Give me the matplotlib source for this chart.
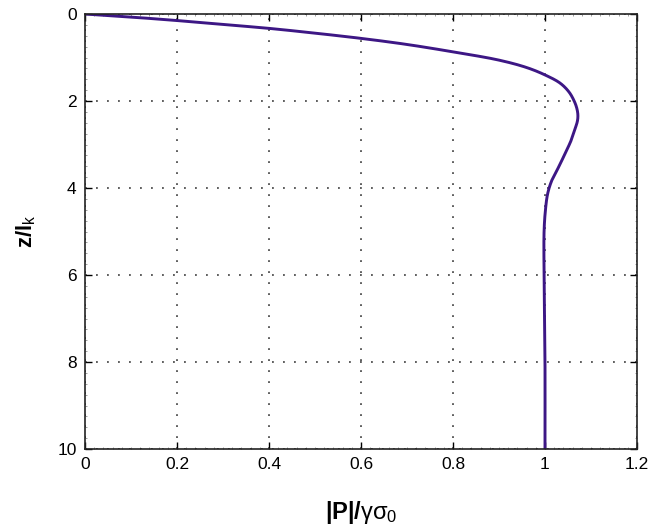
import matplotlib
matplotlib.use("Agg")
import matplotlib.pyplot as plt
from matplotlib.ticker import MultipleLocator
import numpy as np

plt.rcParams['font.family'] = ['Liberation Sans', 'DejaVu Sans']
plt.rcParams['mathtext.fontset'] = 'custom'
plt.rcParams['mathtext.rm'] = 'Liberation Sans'
plt.rcParams['mathtext.bf'] = 'Liberation Sans:bold'
plt.rcParams['mathtext.it'] = 'Liberation Sans'

# |P|/(gamma sigma_0) vs z/l_k
p_ratio = [0.0, 0.1, 0.2, 0.3, 0.4, 0.5, 0.6, 0.7, 0.8, 0.9, 0.96, 1.0,
           1.033, 1.052, 1.063, 1.069, 1.0715, 1.0705, 1.066, 1.057, 1.044,
           1.030, 1.015, 1.006, 1.001, 0.998, 0.998, 0.999, 1.0, 1.0]
z_ratio = [0.0, 0.07, 0.15, 0.24, 0.33, 0.44, 0.56, 0.70, 0.87, 1.06, 1.23, 1.40,
           1.59, 1.79, 1.99, 2.16, 2.32, 2.46, 2.62, 2.90, 3.20,
           3.51, 3.82, 4.12, 4.50, 5.0, 6.0, 7.0, 8.0, 10.0]

x_ticks = [0, 0.2, 0.4, 0.6, 0.8, 1, 1.2]
x_tick_labels = ['0', '0.2', '0.4', '0.6', '0.8', '1', '1.2']
y_ticks = [0, 2, 4, 6, 8, 10]
y_tick_labels = ['0', '2', '4', '6', '8', '10']


def catmull_rom(xs, ys, n=30, alpha=0.5):
    """Centripetal Catmull-Rom smoothing through the given points."""
    p = np.column_stack([xs, ys]).astype(float)
    scale = np.array([460.0, 43.5])  # roughly pixels per unit
    q = p * scale
    q = np.vstack([2 * q[0] - q[1], q, 2 * q[-1] - q[-2]])
    out = []
    for i in range(1, len(q) - 2):
        P0, P1, P2, P3 = q[i - 1], q[i], q[i + 1], q[i + 2]
        t0 = 0.0
        t1 = t0 + max(np.linalg.norm(P1 - P0), 1e-6) ** alpha
        t2 = t1 + max(np.linalg.norm(P2 - P1), 1e-6) ** alpha
        t3 = t2 + max(np.linalg.norm(P3 - P2), 1e-6) ** alpha
        t = np.linspace(t1, t2, n, endpoint=False)[:, None]
        A1 = (t1 - t) / (t1 - t0) * P0 + (t - t0) / (t1 - t0) * P1
        A2 = (t2 - t) / (t2 - t1) * P1 + (t - t1) / (t2 - t1) * P2
        A3 = (t3 - t) / (t3 - t2) * P2 + (t - t2) / (t3 - t2) * P3
        B1 = (t2 - t) / (t2 - t0) * A1 + (t - t0) / (t2 - t0) * A2
        B2 = (t3 - t) / (t3 - t1) * A2 + (t - t1) / (t3 - t1) * A3
        C = (t2 - t) / (t2 - t1) * B1 + (t - t1) / (t2 - t1) * B2
        out.append(C)
    out.append(q[-2][None, :])
    out = np.vstack(out) / scale
    return out[:, 0], out[:, 1]


fig = plt.figure(figsize=(6.49, 5.27), dpi=100)
ax = fig.add_axes([0.131, 0.148, 0.8505, 0.8254])

sx, sy = catmull_rom(p_ratio, z_ratio)
ax.plot(sx, sy, color='#3d1785', lw=2.1, solid_capstyle='round', solid_joinstyle='round')

ax.set_xlim(0, 1.2)
ax.set_ylim(10, 0)
ax.set_xticks(x_ticks)
ax.set_xticklabels(x_tick_labels)
ax.set_yticks(y_ticks)
ax.set_yticklabels(y_tick_labels)
ax.xaxis.set_minor_locator(MultipleLocator(0.02))
ax.yaxis.set_minor_locator(MultipleLocator(0.25))

ax.tick_params(which='major', direction='in', length=5, width=1.0,
               top=True, right=True, labelsize=12.5, pad=6, colors='black')
ax.tick_params(which='minor', direction='in', length=1.5, width=0.5,
               top=True, right=True, color='#777777')

ax.grid(True, which='major', linestyle=(0, (1.2, 6)), color='#333333', lw=1.1)

for s in ax.spines.values():
    s.set_linewidth(1.2)
    s.set_color('#222222')

ax.set_xlabel(r'$\mathbf{|P|/}\gamma\sigma_{\mathrm{0}}$', fontsize=17, labelpad=19)
ax.set_ylabel(r'$\mathbf{z/l}_{\mathrm{k}}$', fontsize=16, labelpad=14)

fig.savefig('out.png', dpi=100)
